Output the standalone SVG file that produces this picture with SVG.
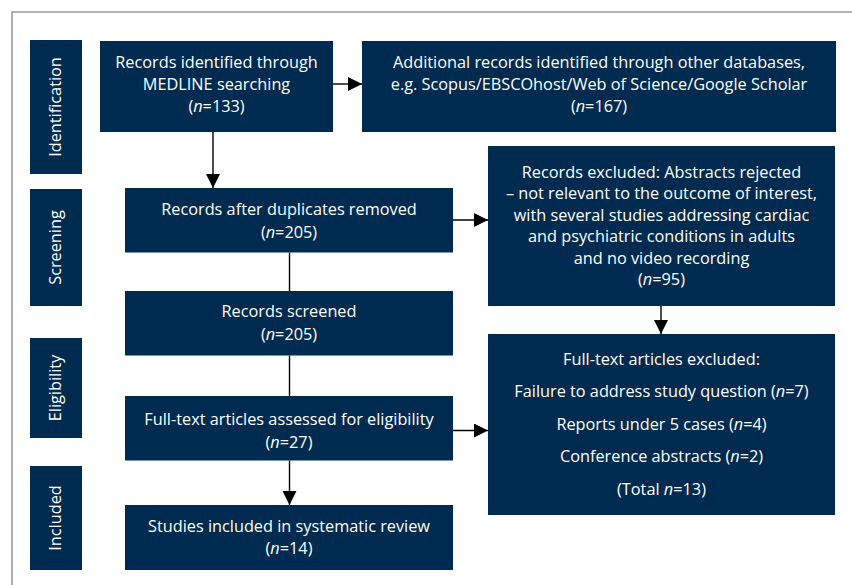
<svg xmlns="http://www.w3.org/2000/svg" width="852" height="585" viewBox="0 0 852 585">
  <style>
    .box { fill: #002b50; }
    .t { font-family: "Open Sans", "Noto Sans", sans-serif; font-size: 16.3px; fill: #ffffff; text-anchor: middle; }
    .side { font-family: "Open Sans", "Noto Sans", sans-serif; font-size: 16.3px; fill: #ffffff; text-anchor: middle; }
    .link { stroke: #000000; stroke-width: 1.4; fill: none; }
    .frame { stroke: #999999; stroke-width: 1.6; fill: none; }
  </style>
  <defs>
    <marker id="arrow" markerUnits="userSpaceOnUse" markerWidth="14" markerHeight="14" viewBox="0 0 14 14" refX="14" refY="7" orient="auto">
      <path d="M0,0 L14,7 L0,14 Z" fill="#000000"/>
    </marker>
  </defs>

  <!-- outer frame (top and left rules) -->
  <path class="frame" d="M12,585 L12,12 L852,12"/>

  <!-- stage labels -->
  <g id="stage-identification">
    <rect class="box" x="30" y="40" width="52" height="134"/>
    <text class="side" transform="translate(61,107) rotate(-90)">Identification</text>
  </g>
  <g id="stage-screening">
    <rect class="box" x="30" y="189" width="52" height="117"/>
    <text class="side" transform="translate(61,247.5) rotate(-90)">Screening</text>
  </g>
  <g id="stage-eligibility">
    <rect class="box" x="30" y="338" width="52" height="100"/>
    <text class="side" transform="translate(61,388) rotate(-90)">Eligibility</text>
  </g>
  <g id="stage-included">
    <rect class="box" x="30" y="466" width="52" height="104"/>
    <text class="side" transform="translate(61,518) rotate(-90)">Included</text>
  </g>

  <!-- connectors -->
  <g id="connectors">
    <line class="link" x1="333" y1="84" x2="362" y2="84" marker-end="url(#arrow)"/>
    <line class="link" x1="213" y1="132" x2="213" y2="188" marker-end="url(#arrow)"/>
    <line class="link" x1="453" y1="220" x2="488" y2="220" marker-end="url(#arrow)"/>
    <line class="link" x1="289.5" y1="252.5" x2="289.5" y2="291"/>
    <line class="link" x1="289.5" y1="355.5" x2="289.5" y2="396"/>
    <line class="link" x1="661" y1="306" x2="661" y2="334" marker-end="url(#arrow)"/>
    <line class="link" x1="453" y1="430.5" x2="488" y2="430.5" marker-end="url(#arrow)"/>
    <line class="link" x1="289.5" y1="460.5" x2="289.5" y2="505" marker-end="url(#arrow)"/>
  </g>

  <g id="medline">
    <rect class="box" x="100" y="41" width="233" height="91"/>
    <text class="t" x="216.5" y="68">Records identified through</text>
    <text class="t" x="216.5" y="90">MEDLINE searching</text>
    <text class="t" x="216.5" y="112">(<tspan font-style="italic">n</tspan>=133)</text>
  </g>

  <g id="other-databases">
    <rect class="box" x="362" y="41" width="474" height="91"/>
    <text class="t" x="599" y="68">Additional records identified through other databases,</text>
    <text class="t" x="599" y="90">e.g. Scopus/EBSCOhost/Web of Science/Google Scholar</text>
    <text class="t" x="599" y="112">(<tspan font-style="italic">n</tspan>=167)</text>
  </g>

  <g id="after-duplicates">
    <rect class="box" x="125" y="188" width="328" height="64.5"/>
    <text class="t" x="289" y="215">Records after duplicates removed</text>
    <text class="t" x="289" y="237.5">(<tspan font-style="italic">n</tspan>=205)</text>
  </g>

  <g id="records-excluded">
    <rect class="box" x="488" y="146" width="347" height="160"/>
    <text class="t" x="661.5" y="177.5">Records excluded: Abstracts rejected</text>
    <text class="t" x="661.5" y="199">– not relevant to the outcome of interest,</text>
    <text class="t" x="661.5" y="220.5">with several studies addressing cardiac</text>
    <text class="t" x="661.5" y="242">and psychiatric conditions in adults</text>
    <text class="t" x="661.5" y="263.5">and no video recording</text>
    <text class="t" x="661.5" y="285">(<tspan font-style="italic">n</tspan>=95)</text>
  </g>

  <g id="records-screened">
    <rect class="box" x="125" y="291" width="328" height="64.5"/>
    <text class="t" x="289" y="317">Records screened</text>
    <text class="t" x="289" y="339.5">(<tspan font-style="italic">n</tspan>=205)</text>
  </g>

  <g id="fulltext-assessed">
    <rect class="box" x="125" y="396" width="328" height="64.5"/>
    <text class="t" x="289" y="425">Full-text articles assessed for eligibility</text>
    <text class="t" x="289" y="447.5">(<tspan font-style="italic">n</tspan>=27)</text>
  </g>

  <g id="fulltext-excluded">
    <rect class="box" x="488" y="334" width="347" height="181"/>
    <text class="t" x="661.5" y="365">Full-text articles excluded:</text>
    <text class="t" x="661.5" y="397">Failure to address study question (<tspan font-style="italic">n</tspan>=7)</text>
    <text class="t" x="661.5" y="430">Reports under 5 cases (<tspan font-style="italic">n</tspan>=4)</text>
    <text class="t" x="661.5" y="462">Conference abstracts (<tspan font-style="italic">n</tspan>=2)</text>
    <text class="t" x="661.5" y="494.5">(Total <tspan font-style="italic">n</tspan>=13)</text>
  </g>

  <g id="included">
    <rect class="box" x="125" y="505" width="328" height="65"/>
    <text class="t" x="289" y="532">Studies included in systematic review</text>
    <text class="t" x="289" y="554">(<tspan font-style="italic">n</tspan>=14)</text>
  </g>
</svg>
